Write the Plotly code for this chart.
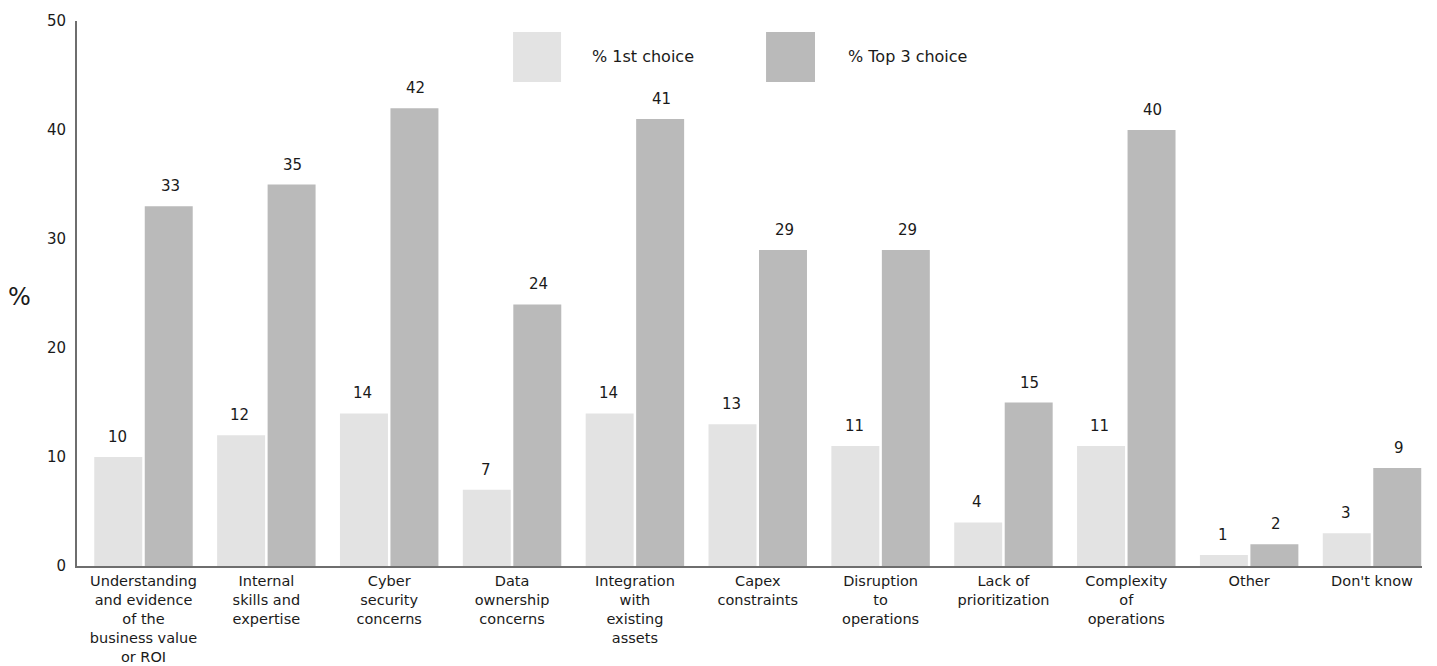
import plotly.graph_objects as go

categories = [
    "Understanding<br>and evidence<br>of the<br>business value<br>or ROI",
    "Internal<br>skills and<br>expertise",
    "Cyber<br>security<br>concerns",
    "Data<br>ownership<br>concerns",
    "Integration<br>with<br>existing<br>assets",
    "Capex<br>constraints",
    "Disruption<br>to<br>operations",
    "Lack of<br>prioritization",
    "Complexity<br>of<br>operations",
    "Other",
    "Don't know",
]
first_choice = [10, 12, 14, 7, 14, 13, 11, 4, 11, 1, 3]
top3_choice = [33, 35, 42, 24, 41, 29, 29, 15, 40, 2, 9]
series_names = ["% 1st choice", "% Top 3 choice"]
y_ticks = [0, 10, 20, 30, 40, 50]

LIGHT = "#e3e3e3"
DARK = "#bababa"
TEXT = "#1a1a1a"
FONT = "DejaVu Sans"

x_idx = list(range(len(categories)))

fig = go.Figure()
fig.add_trace(go.Bar(x=x_idx, y=first_choice, name=series_names[0],
                     marker=dict(color=LIGHT, line=dict(width=0)), showlegend=False))
fig.add_trace(go.Bar(x=x_idx, y=top3_choice, name=series_names[1],
                     marker=dict(color=DARK, line=dict(width=0)), showlegend=False))

annotations = []
for i, (a, b) in enumerate(zip(first_choice, top3_choice)):
    for v, dx in ((a, -26.5), (b, 26.5)):
        annotations.append(dict(x=i, y=v, xref="x", yref="y", text=str(v),
                                showarrow=False, xshift=dx, yshift=9,
                                yanchor="bottom", font=dict(size=15, color=TEXT, family=FONT)))

# y-axis label
annotations.append(dict(x=-0.0425, y=0.494, xref="paper", yref="paper", text="%",
                        showarrow=False, xanchor="center", yanchor="middle",
                        font=dict(size=24, color=TEXT, family=FONT)))

# manual legend
shapes = []
leg = [(0.3242, 0.3599, LIGHT, 0.3815, series_names[0]),
       (0.5123, 0.5487, DARK, 0.5720, series_names[1])]
for x0, x1, col, tx, name in leg:
    shapes.append(dict(type="rect", xref="paper", yref="paper", x0=x0, x1=x1,
                       y0=0.8881, y1=0.9798, fillcolor=col, line=dict(width=0)))
    annotations.append(dict(x=tx, y=0.934, xref="paper", yref="paper", text=name,
                            showarrow=False, xanchor="left", yanchor="middle",
                            font=dict(size=16, color=TEXT, family=FONT)))

fig.update_layout(
    width=1437, height=666,
    margin=dict(l=77, r=15, t=21, b=100),
    paper_bgcolor="white", plot_bgcolor="white",
    barmode="group", bargap=0.178, bargroupgap=0.05,
    font=dict(family=FONT, color=TEXT, size=14),
    annotations=annotations, shapes=shapes,
    xaxis=dict(tickmode="array", tickvals=x_idx, ticktext=categories, automargin=False,
               range=[-0.5413, 10.407], showline=True, linecolor="#6e6e6e", linewidth=2,
               showgrid=False, zeroline=False, ticks="", ticklabelstandoff=1,
               tickfont=dict(size=14.5, color=TEXT)),
    yaxis=dict(range=[0, 50], tickvals=y_ticks, showline=True, linecolor="#6e6e6e",
               linewidth=2, showgrid=False, zeroline=False, ticks="", automargin=False,
               ticklabelstandoff=6, tickfont=dict(size=15, color=TEXT)),
)

fig.write_html("out.html")
